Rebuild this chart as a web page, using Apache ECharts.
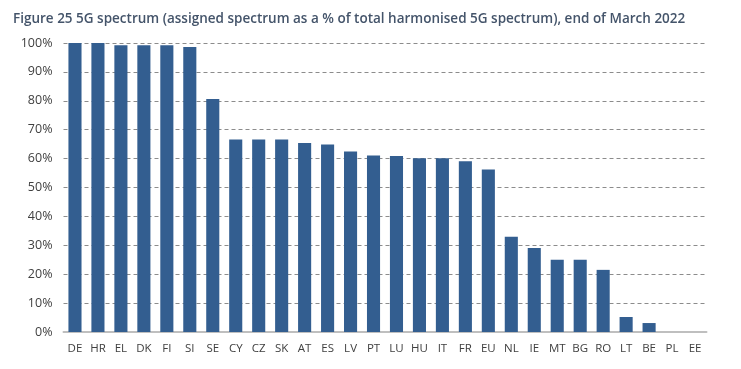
<!DOCTYPE html>
<html><head><meta charset="utf-8">
<script src="https://cdn.jsdelivr.net/npm/echarts@6/dist/echarts.min.js"></script>
<style>html,body{margin:0;padding:0;background:#fff}#c{width:741px;height:369px}</style>
</head><body><div id="c"></div>
<script>
const titleText = 'Figure 25 5G spectrum (assigned spectrum as a % of total harmonised 5G spectrum), end of March 2022';
const categories = ['DE','HR','EL','DK','FI','SI','SE','CY','CZ','SK','AT','ES','LV','PT','LU','HU','IT','FR','EU','NL','IE','MT','BG','RO','LT','BE','PL','EE'];
const values = [100,100,99.2,99.2,99.2,98.6,80.6,66.6,66.6,66.6,65.4,64.9,62.5,61.1,60.9,60.1,60.1,59.1,56.2,33,29.1,25,25,21.5,5.2,3.1,0,0];
const chart = echarts.init(document.getElementById('c'));
chart.setOption({
  animation:false,
  title:{text:titleText,left:8,top:7,textStyle:{fontFamily:'Open Sans',fontSize:13.5,fontWeight:600,color:'#44546a'}},
  grid:{left:63.5,right:34.5,top:43,bottom:37},
  xAxis:{type:'category',data:categories,
    axisLine:{lineStyle:{color:'#bfbfbf',width:2}},axisTick:{show:false},
    axisLabel:{fontFamily:'Open Sans',fontSize:11.5,color:'#404040',margin:11,interval:0}},
  yAxis:{type:'value',min:0,max:100,interval:10,
    axisLabel:{formatter:'{value}%',fontFamily:'Open Sans',fontSize:12.5,color:'#404040',margin:11},
    splitLine:{lineStyle:{type:[4,3],color:'#8c8c8c',width:1}},axisLine:{show:false},axisTick:{show:false}},
  series:[{type:'bar',data:values,barWidth:'57%',itemStyle:{color:'#335e90'}}]
});
</script></body></html>
